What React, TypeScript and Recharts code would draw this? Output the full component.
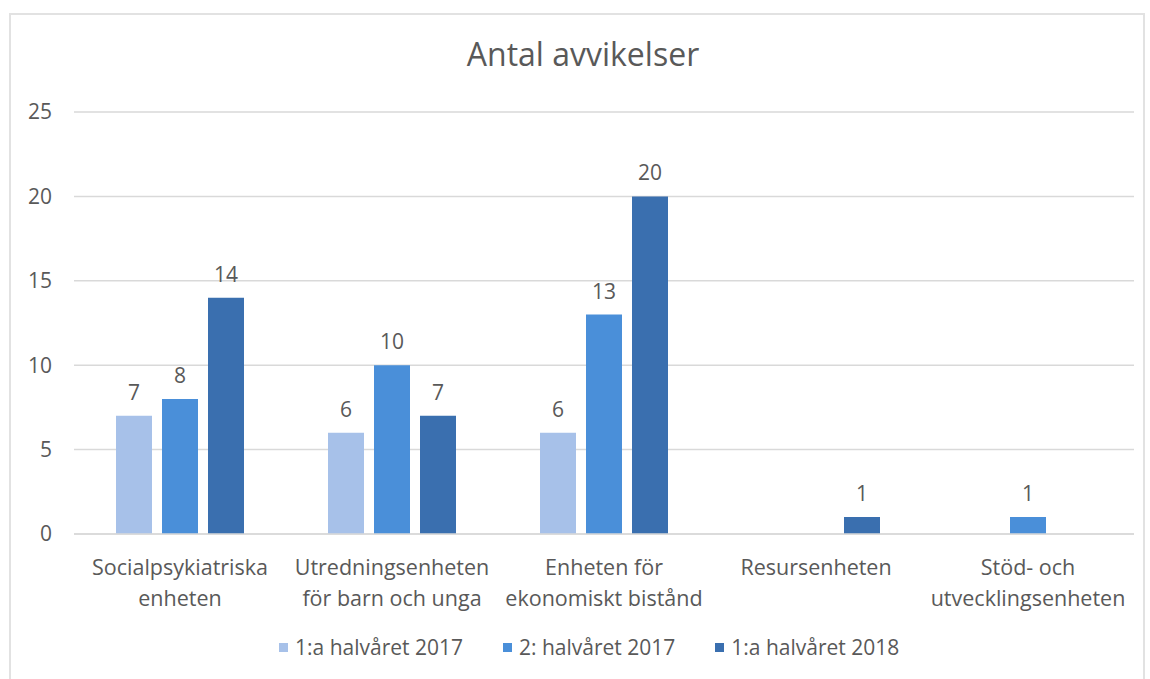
import React from 'react';
import { BarChart, Bar, XAxis, YAxis, CartesianGrid, Legend, LabelList } from 'recharts';

const categories = ['Socialpsykiatriska enheten', 'Utredningsenheten för barn och unga', 'Enheten för ekonomiskt bistånd', 'Resursenheten', 'Stöd- och utvecklingsenheten'];
const tickLines: string[][] = [
  ['Socialpsykiatriska', 'enheten'],
  ['Utredningsenheten', 'för barn och unga'],
  ['Enheten för', 'ekonomiskt bistånd'],
  ['Resursenheten'],
  ['Stöd- och', 'utvecklingsenheten'],
];
const seriesNames = ['1:a halvåret 2017', '2: halvåret 2017', '1:a halvåret 2018'];
const h1_2017: (number | null)[] = [7, 6, 6, null, null];
const h2_2017: (number | null)[] = [8, 10, 13, null, 1];
const h1_2018: (number | null)[] = [14, 7, 20, 1, null];
const yTicks = [0, 5, 10, 15, 20, 25];
const colors = ['#A7C1E9', '#4A8FD9', '#3A6FAF'];

const data = categories.map((c, i) => ({ name: c, idx: i, s1: h1_2017[i], s2: h2_2017[i], s3: h1_2018[i] }));

const FONT = '"Open Sans", Lato, sans-serif';
const TEXT = '#595959';

const CatTick = (props: any) => {
  const { x, y, payload } = props;
  const lines = tickLines[payload.index] || [String(payload.value)];
  return (
    <text x={x} y={y + 39} textAnchor="middle" fill={TEXT} fontSize={21.5} fontFamily={FONT}>
      {lines.map((l, i) => (
        <tspan key={i} x={x} dy={i === 0 ? 0 : 31}>{l}</tspan>
      ))}
    </text>
  );
};

const LegendContent = () => (
  <div style={{ display: 'flex', alignItems: 'center', fontFamily: FONT, fontSize: 21, color: TEXT, height: 24 }}>
    {seriesNames.map((n, i) => (
      <div key={n} style={{ display: 'flex', alignItems: 'center', marginRight: 40 }}>
        <div style={{ width: 9, height: 9, background: colors[i], marginRight: 7 }} />
        <span>{n}</span>
      </div>
    ))}
  </div>
);

export default function App() {
  return (
    <div style={{ position: 'absolute', left: 0, top: 0, width: 1150, height: 679, background: '#fff', overflow: 'hidden' }}>
      <div style={{ position: 'absolute', left: 9, top: 13, width: 1132, height: 720, border: '2px solid #e2e2e2' }} />
      <div style={{ position: 'absolute', left: 0, top: 34, width: 1166, textAlign: 'center', fontFamily: FONT, fontSize: 32, color: TEXT, lineHeight: '40px' }}>
        Antal avvikelser
      </div>
      <div style={{ position: 'absolute', left: 0, top: 0 }}>
        <BarChart
          width={1150}
          height={679}
          data={data}
          margin={{ top: 112, right: 16, left: 24, bottom: 20 }}
          barSize={36}
          barGap={10}
        >
          <CartesianGrid vertical={false} stroke="#d9d9d9" strokeWidth={1.5} />
          <XAxis dataKey="name" tick={<CatTick />} tickLine={false} axisLine={{ stroke: '#d9d9d9', strokeWidth: 1.5 }} height={101} interval={0} tickSize={0} />
          <YAxis domain={[0, 25]} ticks={yTicks} tickLine={false} axisLine={false} width={50} tickSize={0} tickMargin={22}
            tick={{ fill: TEXT, fontSize: 21, fontFamily: FONT }} />
          <Legend verticalAlign="bottom" content={<LegendContent />} wrapperStyle={{ left: 279, top: 635, width: 'auto' }} />
          <Bar dataKey="s1" name={seriesNames[0]} fill={colors[0]} isAnimationActive={false}>
            <LabelList dataKey="s1" position="top" offset={16} fill={TEXT} fontSize={21} fontFamily={FONT} />
          </Bar>
          <Bar dataKey="s2" name={seriesNames[1]} fill={colors[1]} isAnimationActive={false}>
            <LabelList dataKey="s2" position="top" offset={16} fill={TEXT} fontSize={21} fontFamily={FONT} />
          </Bar>
          <Bar dataKey="s3" name={seriesNames[2]} fill={colors[2]} isAnimationActive={false}>
            <LabelList dataKey="s3" position="top" offset={16} fill={TEXT} fontSize={21} fontFamily={FONT} />
          </Bar>
        </BarChart>
      </div>
    </div>
  );
}
